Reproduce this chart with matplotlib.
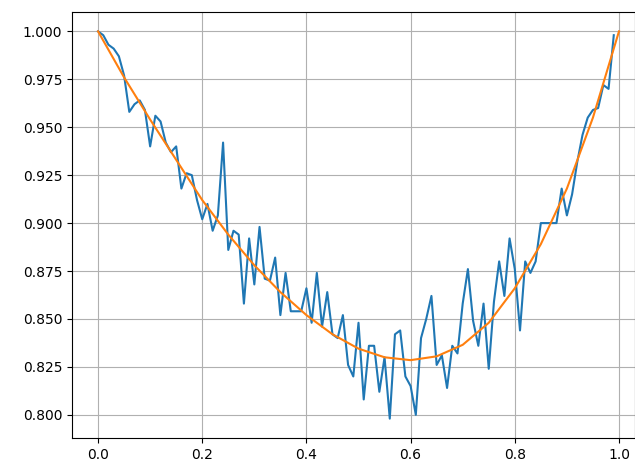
import numpy as np
import matplotlib
matplotlib.use('Agg')
import matplotlib.pyplot as plt

# noisy measured series, x = 0.00 .. 0.99
x_noisy = np.arange(100) / 100
y_noisy = [
    1.000, 0.998, 0.993, 0.991, 0.987, 0.977, 0.958, 0.962, 0.964, 0.959,
    0.940, 0.956, 0.953, 0.942, 0.937, 0.940, 0.918, 0.926, 0.925, 0.912,
    0.902, 0.910, 0.896, 0.904, 0.942, 0.886, 0.896, 0.894, 0.858, 0.892,
    0.868, 0.898, 0.871, 0.870, 0.882, 0.852, 0.874, 0.854, 0.854, 0.854,
    0.866, 0.848, 0.874, 0.846, 0.864, 0.842, 0.840, 0.852, 0.826, 0.820,
    0.848, 0.808, 0.836, 0.836, 0.812, 0.830, 0.798, 0.842, 0.844, 0.820,
    0.815, 0.800, 0.840, 0.850, 0.862, 0.826, 0.831, 0.814, 0.836, 0.832,
    0.858, 0.876, 0.849, 0.836, 0.858, 0.824, 0.859, 0.880, 0.862, 0.892,
    0.876, 0.844, 0.880, 0.874, 0.880, 0.900, 0.900, 0.900, 0.900, 0.918,
    0.904, 0.915, 0.932, 0.946, 0.955, 0.959, 0.960, 0.972, 0.970, 0.998,
]

x_smooth = np.linspace(0, 1, 21)
y_smooth = [
    1.000, 0.976, 0.954, 0.933, 0.912, 0.894, 0.878, 0.864, 0.852, 0.842,
    0.8345, 0.830, 0.8285, 0.8305, 0.8365, 0.848, 0.866, 0.889, 0.918, 0.955,
    1.000,
]

fig = plt.figure(figsize=(6.35, 4.65), dpi=100)
ax = fig.add_subplot(111)
fig.subplots_adjust(left=72 / 635, right=634.5 / 635, bottom=1 - 438 / 465, top=1 - 12 / 465)

ax.plot(x_noisy, y_noisy)
ax.plot(x_smooth, y_smooth)
ax.set_xlim(-0.05, 1.0298)
ax.grid(True)

plt.savefig('out.png')
